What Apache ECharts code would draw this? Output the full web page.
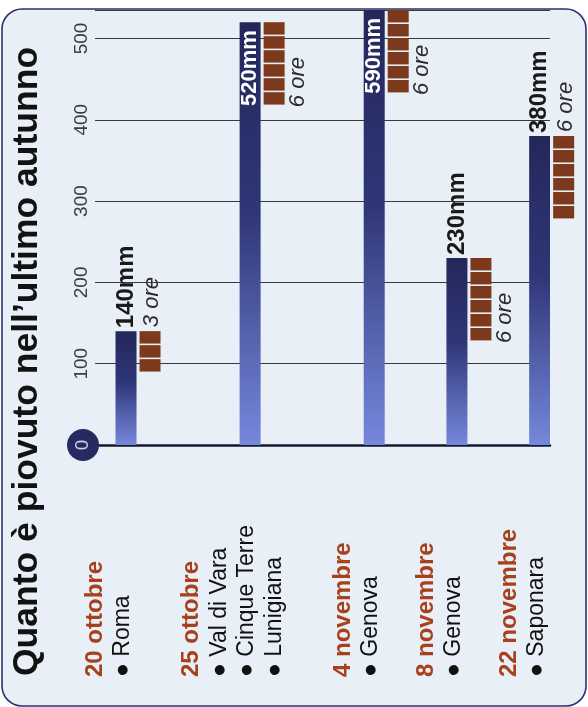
<!DOCTYPE html>
<html><head><meta charset="utf-8">
<script src="https://cdn.jsdelivr.net/npm/echarts@6/dist/echarts.min.js"></script>
<style>html,body{margin:0;padding:0;background:#fff}#c{width:588px;height:707px}</style>
</head><body><div id="c"></div>
<script>
// ---------- data ----------
const titleText = "Quanto è piovuto nell’ultimo autunno";
const dates = ["20 ottobre", "25 ottobre", "4 novembre", "8 novembre", "22 novembre"];
const places = [["Roma"], ["Val di Vara", "Cinque Terre", "Lunigiana"], ["Genova"], ["Genova"], ["Saponara"]];
const rainMm = [140, 520, 590, 230, 380];
const hours = [3, 6, 6, 6, 6];
const yTicks = [0, 100, 200, 300, 400, 500];

// ---------- layout (not data) ----------
const FONT = 'Liberation Sans';
const slotCount = 22;
const slotOf = [1, 7, 13, 17, 21];
const orePlace = ['top', 'side', 'side', 'side', 'top'];
const BAR_W = 21, BLOCK_W = 21, BLOCK_H = 14, BLOCK_GAP = 1.6, PAIR_GAP = 3;

const slots = Array.from({length: slotCount}, (_, i) => 's' + i);
const barData = slots.map(() => '-');
const topTick = yTicks[yTicks.length - 1];
rainMm.forEach((v, i) => {
  const inside = v > topTick;
  barData[slotOf[i]] = {
    value: v,
    label: inside ? {
      position: 'insideTop', distance: 8, align: 'right', verticalAlign: 'middle',
      color: '#ffffff', fontSize: 22
    } : {
      position: 'top', distance: 3, align: 'left', verticalAlign: 'middle',
      color: '#1a1a1a', fontSize: 24
    }
  };
});
const customData = rainMm.map((v, i) => [slotOf[i], v, hours[i], i]);
const tickData = yTicks.map(t => [0, t]);

const chart = echarts.init(document.getElementById('c'), null, {renderer: 'canvas'});
chart.setOption({
  animation: false,
  backgroundColor: '#ffffff',
  textStyle: {fontFamily: FONT},
  graphic: [
    {type: 'rect', z: -100, shape: {x: 2, y: 9, width: 584, height: 697, r: 20},
     style: {fill: '#e8eff7', stroke: '#2b3170', lineWidth: 1.6}},
    {type: 'text', z: 10, x: 27, y: 676, rotation: Math.PI / 2,
     style: {text: titleText, font: 'bold 35.5px "Liberation Sans"', fill: '#121212', align: 'left', verticalAlign: 'middle'}}
  ],
  grid: {left: 95, right: 38, top: 10, bottom: 262, containLabel: false},
  xAxis: {
    type: 'category', data: slots, boundaryGap: true,
    axisLine: {show: true, lineStyle: {color: '#161830', width: 2.5}},
    axisTick: {show: false}, axisLabel: {show: false}, splitLine: {show: false}
  },
  yAxis: {
    type: 'value', min: yTicks[0], max: 535, interval: 100,
    axisLine: {show: false}, axisTick: {show: false}, axisLabel: {show: false},
    splitLine: {show: true, lineStyle: {color: '#3a3a3a', width: 1}}
  },
  series: [
    {
      type: 'bar', data: barData, barWidth: BAR_W, clip: true, z: 3,
      itemStyle: {color: new echarts.graphic.LinearGradient(0, 0, 0, 1, [
        {offset: 0, color: '#23275a'}, {offset: 0.45, color: '#2f3677'}, {offset: 1, color: '#7688dc'}])},
      label: {show: true, rotate: 90, fontWeight: 'bold', fontFamily: FONT, formatter: p => p.value + 'mm'}
    },
    {
      // value-axis tick labels, placed through the y scale
      type: 'custom', data: tickData, encode: {x: 0, y: 1}, clip: false, z: 5,
      renderItem: function (params, api) {
        const t = api.value(1);
        const y = api.coord([0, t])[1];
        const x = params.coordSys.x - 13;
        if (t === 0) {
          return {type: 'group', children: [
            {type: 'circle', shape: {cx: x + 1, cy: y, r: 16}, style: {fill: '#252a60'}},
            {type: 'text', x: x + 1, y: y, rotation: Math.PI / 2,
             style: {text: '0', font: '19px "Liberation Sans"', fill: '#c9cde3', align: 'center', verticalAlign: 'middle'}}
          ]};
        }
        return {type: 'text', x: x, y: y, rotation: Math.PI / 2,
          style: {text: String(t), font: '19px "Liberation Sans"', fill: '#3d3d3d', align: 'center', verticalAlign: 'middle'}};
      }
    },
    {
      type: 'custom', data: customData, encode: {x: 0, y: 1}, clip: false, z: 4,
      renderItem: function (params, api) {
        const slot = api.value(0), val = api.value(1), h = api.value(2), idx = api.value(3);
        const base = api.coord([slot, 0]);
        const cx = base[0];
        const gridTop = params.coordSys.y;
        const yTop = Math.max(api.coord([slot, val])[1], gridTop);
        const bx = cx + BAR_W / 2 + PAIR_GAP;
        const children = [];
        for (let k = 0; k < h; k++) {
          children.push({type: 'rect', shape: {x: bx, y: yTop + k * BLOCK_H, width: BLOCK_W, height: BLOCK_H - BLOCK_GAP},
                         style: {fill: '#7d391b'}});
        }
        const oreText = h + ' ore';
        const oreFont = 'italic 22px "Liberation Sans"';
        if (orePlace[idx] === 'top') {
          children.push({type: 'text', x: bx + BLOCK_W / 2 + 2, y: yTop - 4, rotation: Math.PI / 2,
            style: {text: oreText, font: oreFont, fill: '#2b2b2b', align: 'left', verticalAlign: 'middle'}});
        } else {
          children.push({type: 'text', x: bx + BLOCK_W + 2, y: yTop + h * BLOCK_H + 1, rotation: Math.PI / 2,
            style: {text: oreText, font: oreFont, fill: '#2b2b2b', align: 'left', verticalAlign: 'top'}});
        }
        const lbl = '{d|' + dates[idx] + '}\n' + places[idx].map(p => '{p|● ' + p + '}').join('\n');
        children.push({type: 'text', x: cx - 17, y: 677, rotation: Math.PI / 2,
          style: {text: lbl, align: 'left', verticalAlign: 'middle',
            rich: {
              d: {fontFamily: FONT, fontWeight: 'bold', fontSize: 24, fill: '#a8411b', lineHeight: 27.5},
              p: {fontFamily: FONT, fontSize: 23, fill: '#111111', lineHeight: 27.5}
            }}});
        return {type: 'group', children: children};
      }
    }
  ]
});
</script></body></html>
